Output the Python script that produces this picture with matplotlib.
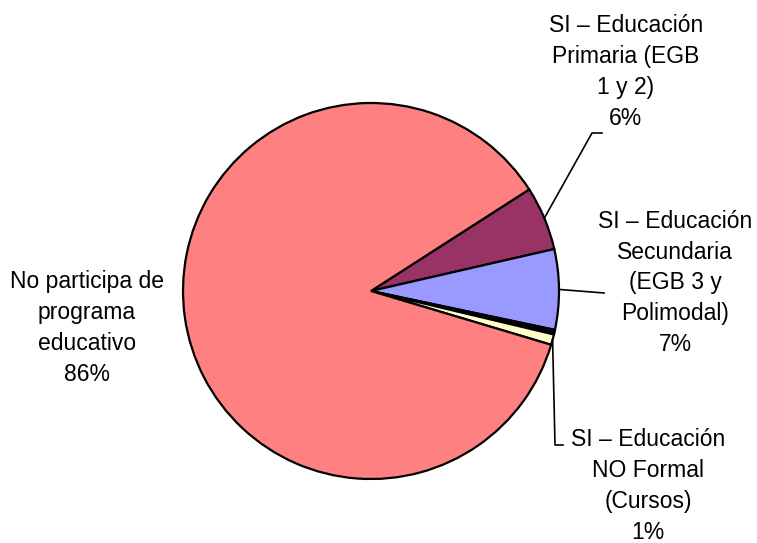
import numpy as np
from matplotlib import pyplot as plt
from matplotlib import font_manager

# slices, clockwise from the Primaria wedge
labels = ['SI – Educación\nPrimaria (EGB\n1 y 2)\n6%',
          'SI – Educación\nSecundaria\n(EGB 3 y\nPolimodal)\n7%',
          '', '',
          'SI – Educación\nNO Formal\n(Cursos)\n1%',
          'No participa de\nprograma\neducativo\n86%']
values = [5.5, 6.9, 0.2, 0.2, 0.9, 86.3]
colors = ['#993366', '#9999FF', '#CCFFFF', '#008080', '#FFFFCC', '#FF8080']

installed = {f.name for f in font_manager.fontManager.ttflist}
if 'Liberation Sans Narrow' in installed:
    family, size, spacing = 'Liberation Sans Narrow', 19.5, 1.22
else:
    family, size, spacing = 'Liberation Sans', 16.5, 1.43

W, H = 757, 543
fig = plt.figure(figsize=(W / 100, H / 100), dpi=100)
ax = fig.add_axes([0, 0, 1, 1])

cx, cy, r = 371, H - 291, 188
wedges, _ = ax.pie(values, colors=colors, startangle=32.7, counterclock=False,
                   center=(cx, cy), radius=r, frame=True,
                   wedgeprops=dict(edgecolor='black', linewidth=1.6))
ax.set_xlim(0, W)
ax.set_ylim(0, H)
ax.set_aspect('equal')
ax.axis('off')


def rim(w):
    a = np.deg2rad((w.theta1 + w.theta2) / 2)
    return cx + r * np.cos(a), cy + r * np.sin(a)


font = dict(family=[family, 'DejaVu Sans'], fontsize=size,
            ha='center', va='center', linespacing=spacing)

# Primaria
x0, y0 = rim(wedges[0])
ax.plot([x0, 592, 602], [y0, H - 133, H - 133], color='black', lw=1.2)
ax.text(626, H - 72, labels[0], **font)

# Secundaria
x0, y0 = rim(wedges[1])
ax.plot([x0, 604], [y0, H - 293], color='black', lw=1.2)
ax.text(675, H - 283, labels[1], **font)

# NO Formal
x0, y0 = rim(wedges[4])
ax.plot([x0, 555, 563], [y0, H - 445, H - 445], color='black', lw=1.2)
ax.text(648, H - 486, labels[4], **font)

# No participa
ax.text(87, H - 328, labels[5], **font)

fig.savefig('out.png', dpi=100)
